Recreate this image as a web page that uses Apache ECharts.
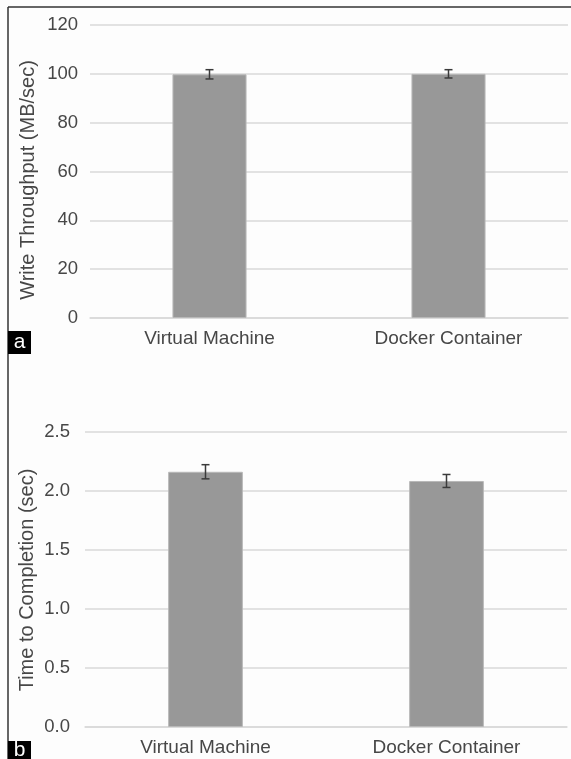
<!DOCTYPE html>
<html>
<head>
<meta charset="utf-8">
<script src="https://cdn.jsdelivr.net/npm/echarts@6/dist/echarts.min.js"></script>
<style>
html,body{margin:0;padding:0;background:#fdfdfd;}
#c{width:571px;height:759px;}
</style>
</head>
<body>
<div id="c"></div>
<script>
const categories = ['Virtual Machine', 'Docker Container'];
const throughputValues = [99.8, 100.0];
const throughputErrors = [1.9, 1.7];
const timeValues = [2.163, 2.085];
const timeErrors = [0.06, 0.055];
const throughputTicks = [0, 20, 40, 60, 80, 100, 120];
const timeTicks = ['0.0', '0.5', '1.0', '1.5', '2.0', '2.5'];

const textColor = '#474747';
const font = 'Liberation Sans, Arial, sans-serif';

function errSeries(xi, yi, vals, errs) {
  return {
    type: 'custom',
    xAxisIndex: xi, yAxisIndex: yi,
    data: vals.map((v, i) => [i, v - errs[i], v + errs[i]]),
    renderItem: function (params, api) {
      const lo = api.coord([api.value(0), api.value(1)]);
      const hi = api.coord([api.value(0), api.value(2)]);
      const w = 4;
      const st = { stroke: '#3a3a3a', lineWidth: 1.5 };
      return { type: 'group', children: [
        { type: 'line', shape: { x1: lo[0], y1: lo[1], x2: hi[0], y2: hi[1] }, style: st },
        { type: 'line', shape: { x1: lo[0] - w, y1: lo[1], x2: lo[0] + w, y2: lo[1] }, style: st },
        { type: 'line', shape: { x1: hi[0] - w, y1: hi[1], x2: hi[0] + w, y2: hi[1] }, style: st }
      ]};
    },
    z: 5
  };
}

const chart = echarts.init(document.getElementById('c'), null, { renderer: 'canvas' });
chart.setOption({
  backgroundColor: '#fdfdfd',
  animation: false,
  grid: [
    { left: 90, right: 3, top: 25, height: 293 },
    { left: 85, right: 4, top: 432, height: 295 }
  ],
  xAxis: [0, 1].map(g => ({
    type: 'category', gridIndex: g, data: categories,
    axisLine: { show: true, lineStyle: { color: '#d9d9d9', width: 1.5 } },
    axisTick: { show: false },
    axisLabel: { color: textColor, fontSize: 19, fontFamily: font, margin: 11 }
  })),
  yAxis: [
    {
      type: 'value', gridIndex: 0, min: throughputTicks[0], max: throughputTicks[throughputTicks.length - 1], interval: 20,
      axisLine: { show: false }, axisTick: { show: false },
      axisLabel: { color: textColor, fontSize: 18.5, fontFamily: font, margin: 12 },
      splitLine: { lineStyle: { color: '#d9d9d9', width: 1.5 } }
    },
    {
      type: 'value', gridIndex: 1, min: 0, max: 2.5, interval: 0.5,
      axisLine: { show: false }, axisTick: { show: false },
      axisLabel: { color: textColor, fontSize: 18.5, fontFamily: font, margin: 15,
        formatter: v => timeTicks[Math.round(v / 0.5)] },
      splitLine: { lineStyle: { color: '#d9d9d9', width: 1.5 } }
    }
  ],
  series: [
    { type: 'bar', xAxisIndex: 0, yAxisIndex: 0, data: throughputValues, barWidth: '31%',
      itemStyle: { color: '#989898', borderColor: '#b8b8b8', borderWidth: 1 } },
    errSeries(0, 0, throughputValues, throughputErrors),
    { type: 'bar', xAxisIndex: 1, yAxisIndex: 1, data: timeValues, barWidth: '31%',
      itemStyle: { color: '#989898', borderColor: '#b8b8b8', borderWidth: 1 } },
    errSeries(1, 1, timeValues, timeErrors)
  ],
  graphic: [
    { type: 'line', shape: { x1: 8, y1: 7, x2: 571, y2: 7 }, style: { stroke: '#333', lineWidth: 1.5 } },
    { type: 'line', shape: { x1: 8, y1: 7, x2: 8, y2: 759 }, style: { stroke: '#333', lineWidth: 1.5 } },
    { type: 'text', x: 28, y: 180, rotation: Math.PI / 2, style: { text: 'Write Throughput (MB/sec)', fill: textColor, fontSize: 20, fontFamily: font, align: 'center', verticalAlign: 'middle' } },
    { type: 'text', x: 27, y: 580, rotation: Math.PI / 2, style: { text: 'Time to Completion (sec)', fill: textColor, fontSize: 20, fontFamily: font, align: 'center', verticalAlign: 'middle' } },
    { type: 'rect', shape: { x: 8, y: 331, width: 23, height: 23 }, style: { fill: '#000' } },
    { type: 'text', x: 19.5, y: 342, style: { text: 'a', fill: '#fff', fontSize: 21, fontFamily: font, align: 'center', verticalAlign: 'middle' } },
    { type: 'rect', shape: { x: 8, y: 741, width: 23, height: 18 }, style: { fill: '#000' } },
    { type: 'text', x: 19.5, y: 750, style: { text: 'b', fill: '#fff', fontSize: 21, fontFamily: font, align: 'center', verticalAlign: 'middle' } }
  ]
});
</script>
</body>
</html>
